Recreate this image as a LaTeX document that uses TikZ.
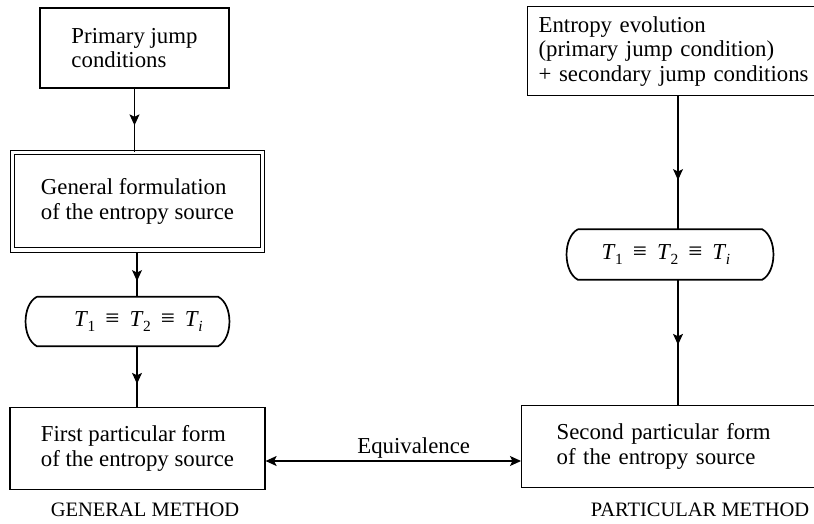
\documentclass[tikz,border=0pt]{standalone}
\usepackage{fontspec}
\setmainfont{Liberation Serif}
\usetikzlibrary{arrows.meta,decorations.markings}

% T with a subscript, set in text fonts
\newcommand{\Tsb}[1]{\textit{T}\kern-0.5pt\raisebox{-5pt}{\fontsize{15.5}{15.5}\selectfont #1}}
\newcommand{\eqchain}{\Tsb{1}\hspace{10pt}{\fontsize{25}{25}\selectfont ≡}\hspace{10pt}\Tsb{2}\hspace{10pt}{\fontsize{25}{25}\selectfont ≡}\hspace{10pt}\Tsb{\textit{i}}}

\tikzset{
  txt/.style={font=\fontsize{22.8}{24.5}\selectfont},
  box/.style={txt, draw, line width=1.2pt, align=left, inner sep=0pt},
  dbox/.style={box, line width=1pt, double, double distance=3.5pt},
  flow/.style={line width=1.1pt, postaction={decorate},
    decoration={markings, mark=at position #1 with {\arrow{Stealth[length=11pt, width=10pt, inset=2.5pt]}}}},
  brk/.style={line width=1.7pt},
  bslot/.style={txt, inner sep=0pt},
  method/.style={font=\fontsize{20.5}{22}\selectfont},
}

\begin{document}
\begin{tikzpicture}[x=1pt, y=-1pt]
\useasboundingbox (0,0) rectangle (814,523);
\fill[white] (0,0) rectangle (814,523);

% ---- general method (left column)
\node[box, minimum width=189pt, minimum height=80pt] (prim) at (134.5,48)
  {Primary jump\\conditions};
\node[dbox, minimum width=250pt, minimum height=97.5pt] (gen) at (137.5,201.25)
  {General formulation\\of the entropy source};
\node[bslot, minimum width=181pt, minimum height=49pt] (eqL) at (127.5,321.5)
  {\hspace*{22pt}\eqchain};
\node[box, minimum width=255pt, minimum height=82pt] (first) at (137.5,448.5)
  {First particular form\\of the entropy source};

% ---- particular method (right column, runs off the right edge)
\node[box, anchor=north west, text width=300pt, inner xsep=11pt, minimum height=89pt]
  (ent) at (527,6)
  {Entropy evolution\\(primary jump condition)\\+ secondary jump conditions};
\node[bslot, minimum width=184pt, minimum height=50pt] (eqR) at (670,254.5)
  {\hspace*{-8pt}\eqchain};
\node[box, anchor=north west, text width=300pt, inner xsep=35pt, minimum height=82pt]
  (second) at (521,405)
  {Second particular form\\of the entropy source};

% bracket outlines of the temperature condition
\foreach \n in {eqL,eqR}{
  \draw[brk] (\n.north west) -- (\n.north east)
    .. controls +(15,8) and +(15,-8) .. (\n.south east)
    -- (\n.south west)
    .. controls +(-15,-8) and +(-15,8) .. (\n.north west);
}

% ---- connectors
\coordinate (rx) at (678,0);
\coordinate (lx) at (137,0);
\coordinate (eqy) at (0,461);

\draw[flow=0.58] (prim.south) -- (prim.south |- gen.north);
\draw[flow=0.66, shorten <=2.5pt] (gen.south -| lx) -- (eqL.north -| lx);
\draw[flow=0.62] (eqL.south -| lx) -- (first.north -| lx);

\draw[flow=0.63] (ent.south -| rx) -- (eqR.north -| rx);
\draw[flow=0.52] (eqR.south -| rx) -- (second.north -| rx);

\draw[line width=1.1pt, {Stealth[length=11pt, width=10pt, inset=2.5pt]}-{Stealth[length=11pt, width=10pt, inset=2.5pt]}]
  (first.east |- eqy) -- node[txt, pos=0.58, anchor=south, inner sep=2pt] (eqv) {Equivalence}
  (second.west |- eqy);

% ---- method labels
\node[method, anchor=base] (gm) at (145,516) {GENERAL METHOD};
\node[method, anchor=base] (pm) at (700,516) {PARTICULAR METHOD};
\end{tikzpicture}
\end{document}
